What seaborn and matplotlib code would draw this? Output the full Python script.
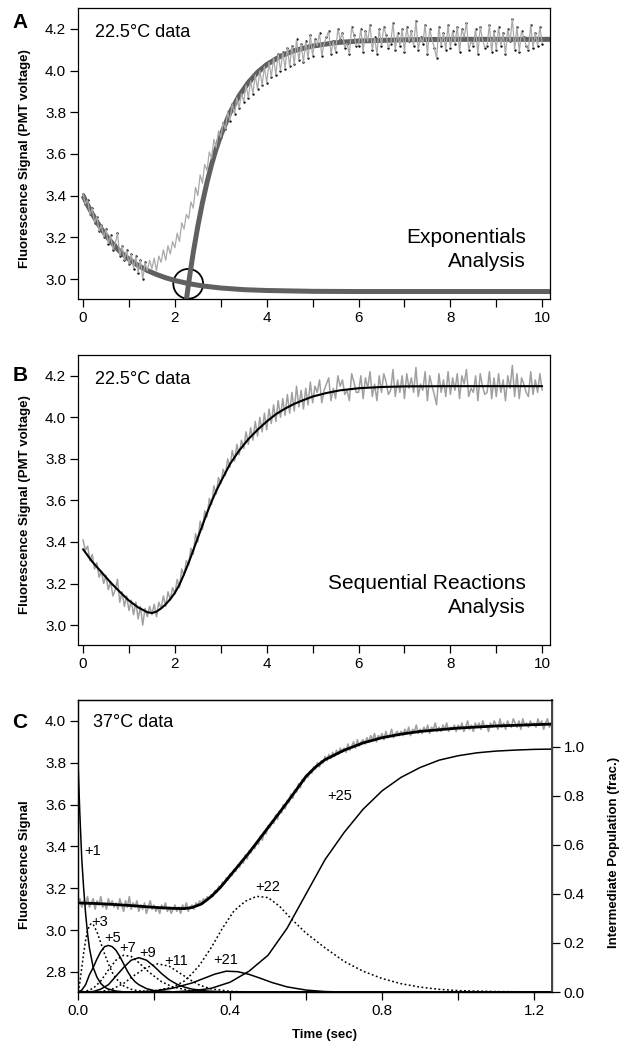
import numpy as np
import pandas as pd
import matplotlib
matplotlib.use("Agg")
import matplotlib.pyplot as plt
from matplotlib.ticker import MultipleLocator, FormatStrFormatter
import seaborn as sns

# ---------------- Panels A & B : 22.5 C stopped-flow trace ----------------
ab_dt = 0.05   # s between samples
ab_signal = [
    3.41, 3.36, 3.38, 3.31, 3.34, 3.27, 3.30, 3.23, 3.26, 3.20, 3.24, 3.17, 3.21, 3.14, 3.17, 3.22, 3.11, 3.16, 3.09, 3.14,
    3.07, 3.12, 3.05, 3.11, 3.03, 3.09, 3.00, 3.08, 3.04, 3.09, 3.05, 3.10, 3.04, 3.11, 3.08, 3.14, 3.09, 3.16, 3.12, 3.18,
    3.15, 3.22, 3.18, 3.27, 3.24, 3.31, 3.29, 3.37, 3.34, 3.44, 3.40, 3.50, 3.46, 3.55, 3.52, 3.61, 3.58, 3.67, 3.63, 3.71,
    3.68, 3.75, 3.72, 3.80, 3.76, 3.84, 3.79, 3.87, 3.82, 3.89, 3.85, 3.93, 3.87, 3.95, 3.89, 3.98, 3.91, 4.00, 3.93, 4.02,
    3.94, 4.04, 3.97, 4.06, 3.98, 4.08, 4.00, 4.09, 4.01, 4.11, 4.02, 4.12, 4.03, 4.15, 4.05, 4.13, 4.04, 4.14, 4.06, 4.17,
    4.07, 4.15, 4.12, 4.18, 4.07, 4.13, 4.16, 4.19, 4.08, 4.14, 4.09, 4.20, 4.15, 4.18, 4.11, 4.13, 4.08, 4.21, 4.17, 4.12,
    4.12, 4.20, 4.09, 4.19, 4.14, 4.22, 4.10, 4.16, 4.08, 4.20, 4.12, 4.21, 4.17, 4.11, 4.13, 4.23, 4.10, 4.18, 4.12, 4.20,
    4.09, 4.21, 4.14, 4.19, 4.12, 4.24, 4.10, 4.16, 4.13, 4.22, 4.08, 4.20, 4.15, 4.11, 4.06, 4.21, 4.12, 4.18, 4.10, 4.22,
    4.11, 4.19, 4.13, 4.21, 4.09, 4.20, 4.16, 4.23, 4.10, 4.14, 4.12, 4.20, 4.08, 4.21, 4.15, 4.11, 4.12, 4.22, 4.09, 4.19,
    4.10, 4.21, 4.12, 4.18, 4.08, 4.20, 4.14, 4.25, 4.10, 4.21, 4.09, 4.19, 4.16, 4.12, 4.10, 4.22, 4.11, 4.18, 4.12, 4.21,
    4.13,
]

# exponentials analysis (panel A)
exp_decay_t = [0.0, 0.1, 0.2, 0.3, 0.4, 0.5, 0.6, 0.7, 0.8, 0.9, 1.0, 1.2, 1.4, 1.6, 1.8, 2.0, 2.3, 2.6,
               3.0, 3.5, 4.0, 5.0, 6.0, 8.0, 10.2]
exp_decay_y = [3.400, 3.355, 3.313, 3.275, 3.240, 3.209, 3.181, 3.156, 3.133, 3.113, 3.095, 3.065, 3.041,
               3.022, 3.006, 2.993, 2.978, 2.967, 2.957, 2.949, 2.945, 2.941, 2.940, 2.940, 2.940]
exp_rise_t = [2.25, 2.3, 2.4, 2.5, 2.6, 2.7, 2.8, 2.9, 3.0, 3.2, 3.4, 3.6, 3.8, 4.0, 4.3, 4.6, 5.0, 5.5,
              6.0, 7.0, 8.0, 10.2]
exp_rise_y = [2.900, 2.981, 3.127, 3.254, 3.366, 3.464, 3.550, 3.625, 3.690, 3.798, 3.880, 3.943, 3.992,
              4.029, 4.069, 4.096, 4.118, 4.134, 4.142, 4.148, 4.150, 4.150]
cross_t = [2.29]
cross_y = [2.977]

# sequential reactions analysis (panel B)
seq_fit_t = [0.0, 0.2, 0.4, 0.6, 0.8, 1.0, 1.2, 1.4, 1.5, 1.6, 1.7, 1.8, 1.9, 2.0, 2.1, 2.2, 2.3, 2.4,
             2.5, 2.6, 2.7, 2.8, 2.9, 3.0, 3.2, 3.4, 3.6, 3.8, 4.0, 4.2, 4.4, 4.6, 4.8, 5.0, 5.3, 5.6,
             6.0, 6.5, 7.0, 8.0, 10.0]
seq_fit_y = [3.365, 3.305, 3.255, 3.205, 3.160, 3.118, 3.085, 3.062, 3.058, 3.065, 3.080, 3.100, 3.125,
             3.155, 3.195, 3.245, 3.300, 3.360, 3.420, 3.480, 3.540, 3.595, 3.645, 3.690, 3.775, 3.840,
             3.895, 3.940, 3.980, 4.015, 4.042, 4.065, 4.083, 4.100, 4.117, 4.130, 4.140, 4.146, 4.149,
             4.150, 4.150]

# ---------------- Panel C : 37 C trace ----------------
c_dt = 0.005
c_signal = [
    3.13, 3.15, 3.11, 3.14, 3.12, 3.16, 3.11, 3.13, 3.15, 3.10,
    3.14, 3.12, 3.16, 3.11, 3.13, 3.10, 3.15, 3.12, 3.14, 3.11,
    3.13, 3.10, 3.15, 3.12, 3.09, 3.14, 3.11, 3.16, 3.10, 3.13,
    3.11, 3.14, 3.09, 3.12, 3.10, 3.13, 3.08, 3.11, 3.14, 3.10,
    3.12, 3.09, 3.11, 3.08, 3.12, 3.10, 3.13, 3.09, 3.11, 3.08,
    3.10, 3.12, 3.09, 3.11, 3.08, 3.12, 3.10, 3.13, 3.09, 3.11,
    3.12, 3.10, 3.13, 3.12, 3.14, 3.13, 3.15, 3.14, 3.16, 3.15,
    3.17, 3.16, 3.19, 3.18, 3.21, 3.20, 3.23, 3.22, 3.25, 3.24,
    3.27, 3.26, 3.29, 3.28, 3.31, 3.30, 3.33, 3.32, 3.36, 3.34,
    3.38, 3.37, 3.40, 3.39, 3.42, 3.41, 3.45, 3.43, 3.47, 3.46,
    3.50, 3.49, 3.52, 3.51, 3.55, 3.53, 3.57, 3.56, 3.60, 3.58,
    3.62, 3.61, 3.65, 3.63, 3.67, 3.66, 3.70, 3.68, 3.72, 3.71,
    3.74, 3.73, 3.76, 3.75, 3.78, 3.77, 3.80, 3.78, 3.81, 3.80,
    3.83, 3.81, 3.84, 3.82, 3.85, 3.83, 3.86, 3.84, 3.87, 3.85,
    3.87, 3.85, 3.89, 3.86, 3.88, 3.90, 3.87, 3.91, 3.88, 3.90,
    3.91, 3.89, 3.92, 3.90, 3.93, 3.91, 3.94, 3.90, 3.93, 3.92,
    3.94, 3.91, 3.95, 3.92, 3.93, 3.96, 3.92, 3.94, 3.95, 3.93,
    3.95, 3.93, 3.96, 3.94, 3.97, 3.93, 3.96, 3.95, 3.98, 3.94,
    3.96, 3.94, 3.97, 3.95, 3.98, 3.94, 3.97, 3.96, 3.99, 3.95,
    3.97, 3.95, 3.98, 3.96, 3.99, 3.95, 3.97, 3.96, 3.98, 3.95,
    3.98, 3.96, 3.99, 3.95, 3.97, 4.00, 3.96, 3.98, 3.95, 3.99,
    3.97, 3.99, 3.96, 4.00, 3.97, 3.98, 3.95, 3.99, 3.97, 4.00,
    3.98, 3.96, 4.01, 3.97, 3.99, 3.96, 4.00, 3.98, 3.97, 4.01,
    3.99, 3.97, 4.00, 3.96, 4.01, 3.98, 3.99, 3.97, 4.00, 3.98,
    3.99, 3.97, 4.01, 3.98, 4.00, 3.96, 3.99, 4.01, 3.97, 3.99,
]
c_fit_t = [0.0, 0.05, 0.10, 0.15, 0.20, 0.25, 0.28, 0.30, 0.325, 0.35, 0.375, 0.40, 0.45, 0.50, 0.55,
           0.60, 0.625, 0.65, 0.70, 0.75, 0.80, 0.85, 0.90, 1.00, 1.10, 1.247]
c_fit_y = [3.130, 3.127, 3.122, 3.116, 3.109, 3.104, 3.103, 3.108, 3.125, 3.160, 3.205, 3.260, 3.370,
           3.490, 3.610, 3.735, 3.780, 3.815, 3.860, 3.895, 3.920, 3.937, 3.950, 3.966, 3.976, 3.985]

# intermediate populations (fraction)
pop1_t = [0.0, 0.005, 0.01, 0.015, 0.02, 0.025, 0.03, 0.04, 0.05, 0.06, 0.07, 0.08, 0.10, 0.12, 0.15, 1.247]
pop1_f = [0.94, 0.72, 0.54, 0.42, 0.32, 0.24, 0.18, 0.10, 0.06, 0.035, 0.02, 0.012, 0.004, 0.001, 0.0, 0.0]
pop3_t = [0.0, 0.005, 0.01, 0.015, 0.02, 0.025, 0.03, 0.035, 0.04, 0.05, 0.06, 0.07, 0.08, 0.09, 0.10,
          0.12, 0.14, 0.16, 0.20, 0.30, 1.247]
pop3_f = [0.0, 0.04, 0.10, 0.16, 0.21, 0.25, 0.27, 0.28, 0.275, 0.245, 0.20, 0.155, 0.115, 0.08, 0.055,
          0.025, 0.011, 0.005, 0.001, 0.0, 0.0]
pop5_t = [0.0, 0.01, 0.02, 0.03, 0.04, 0.05, 0.06, 0.07, 0.08, 0.09, 0.10, 0.11, 0.12, 0.13, 0.14, 0.15,
          0.16, 0.18, 0.20, 0.25, 0.30, 1.247]
pop5_f = [0.0, 0.008, 0.03, 0.07, 0.10, 0.135, 0.165, 0.185, 0.19, 0.185, 0.17, 0.145, 0.115, 0.085,
          0.06, 0.042, 0.03, 0.014, 0.006, 0.001, 0.0, 0.0]
pop7_t = [0.0, 0.02, 0.04, 0.06, 0.08, 0.10, 0.12, 0.14, 0.16, 0.18, 0.20, 0.22, 0.25, 0.30, 0.35, 1.247]
pop7_f = [0.0, 0.003, 0.015, 0.045, 0.09, 0.13, 0.15, 0.145, 0.12, 0.09, 0.065, 0.042, 0.02, 0.005, 0.001, 0.0]
pop9_t = [0.0, 0.04, 0.06, 0.08, 0.10, 0.12, 0.14, 0.16, 0.18, 0.20, 0.22, 0.24, 0.26, 0.28, 0.30, 0.34,
          0.40, 1.247]
pop9_f = [0.0, 0.002, 0.012, 0.03, 0.065, 0.10, 0.13, 0.14, 0.13, 0.105, 0.075, 0.05, 0.032, 0.02, 0.012,
          0.004, 0.0, 0.0]
pop11_t = [0.0, 0.06, 0.09, 0.12, 0.15, 0.18, 0.21, 0.24, 0.27, 0.30, 0.32, 0.35, 0.40, 0.45, 1.247]
pop11_f = [0.0, 0.002, 0.012, 0.035, 0.07, 0.10, 0.115, 0.105, 0.075, 0.045, 0.028, 0.013, 0.003, 0.0, 0.0]
pop21_t = [0.0, 0.15, 0.20, 0.25, 0.30, 0.33, 0.36, 0.39, 0.42, 0.45, 0.48, 0.51, 0.55, 0.60, 0.65, 0.70, 1.247]
pop21_f = [0.0, 0.0, 0.004, 0.016, 0.037, 0.055, 0.073, 0.085, 0.083, 0.072, 0.056, 0.039, 0.021, 0.008,
           0.002, 0.0, 0.0]
pop22_t = [0.0, 0.15, 0.20, 0.25, 0.28, 0.30, 0.32, 0.35, 0.38, 0.41, 0.44, 0.47, 0.50, 0.53, 0.56, 0.60,
           0.65, 0.70, 0.75, 0.80, 0.85, 0.90, 0.95, 1.00, 1.10, 1.247]
pop22_f = [0.0, 0.0, 0.005, 0.02, 0.045, 0.075, 0.11, 0.18, 0.26, 0.33, 0.37, 0.39, 0.385, 0.35, 0.30,
           0.24, 0.18, 0.125, 0.085, 0.055, 0.034, 0.02, 0.011, 0.006, 0.002, 0.0]
pop25_t = [0.0, 0.20, 0.25, 0.30, 0.35, 0.40, 0.45, 0.50, 0.55, 0.60, 0.65, 0.70, 0.75, 0.80, 0.85, 0.90,
           0.95, 1.00, 1.05, 1.10, 1.15, 1.20, 1.247]
pop25_f = [0.0, 0.0, 0.001, 0.005, 0.015, 0.04, 0.085, 0.15, 0.26, 0.40, 0.54, 0.65, 0.745, 0.82, 0.875,
           0.915, 0.945, 0.963, 0.975, 0.982, 0.986, 0.989, 0.99]

pop_names = ["+1", "+3", "+5", "+7", "+9", "+11", "+21", "+22", "+25"]
pop_label_t = [0.039, 0.058, 0.091, 0.130, 0.182, 0.258, 0.389, 0.500, 0.689]
pop_label_f = [0.575, 0.286, 0.220, 0.180, 0.160, 0.127, 0.130, 0.430, 0.800]

# ---------------- styling ----------------
sns.set_theme(style="ticks")
plt.rcParams['font.family'] = ['Liberation Sans', 'DejaVu Sans']
plt.rcParams.update({
    'axes.edgecolor': 'black', 'axes.linewidth': 0.9,
    'text.color': 'black', 'axes.labelcolor': 'black',
    'xtick.color': 'black', 'ytick.color': 'black',
})

TICK_FS = 11
fig = plt.figure(figsize=(6.28, 10.5), dpi=100)
axA = fig.add_axes([0.1242, 0.7152, 0.7516, 0.2771])
axB = fig.add_axes([0.1242, 0.3857, 0.7516, 0.2762])
axC = fig.add_axes([0.1242, 0.0552, 0.7548, 0.2781])

ab_t = np.arange(len(ab_signal)) * ab_dt
ab_sig = np.array(ab_signal)
ab_df = pd.DataFrame({"t": ab_t, "y": ab_sig})
dotted_mask = (ab_t <= 1.4 + 1e-9) | (ab_t >= 3.0 - 1e-9)

FIT_GRAY = "#606060"
DATA_GRAY = "#a9a9a9"

# ---- Panel A ----
sns.lineplot(x=exp_decay_t, y=exp_decay_y, ax=axA, color=FIT_GRAY, lw=3.6,
             estimator=None, sort=False, solid_capstyle='butt')
sns.lineplot(x=exp_rise_t, y=exp_rise_y, ax=axA, color=FIT_GRAY, lw=3.6,
             estimator=None, sort=False, solid_capstyle='butt')
sns.lineplot(data=ab_df, x="t", y="y", ax=axA, color=DATA_GRAY, lw=0.9,
             estimator=None, sort=False)
sns.scatterplot(data=ab_df[dotted_mask], x="t", y="y", ax=axA, color="black",
                s=3, linewidth=0)
sns.scatterplot(x=cross_t, y=cross_y, ax=axA, marker='o', s=460,
                color='black', linewidth=1.3)
axA.collections[-1].set_facecolor('none')
axA.collections[-1].set_edgecolor('black')

# ---- Panel B ----
sns.lineplot(data=ab_df, x="t", y="y", ax=axB, color="#a0a0a0", lw=1.1,
             estimator=None, sort=False)
sns.lineplot(x=seq_fit_t, y=seq_fit_y, ax=axB, color="black", lw=1.5,
             estimator=None, sort=False)

for ax in (axA, axB):
    ax.set_xlim(-0.11, 10.17)
    ax.set_ylim(2.904, 4.30)
    ax.xaxis.set_major_locator(MultipleLocator(2))
    ax.xaxis.set_minor_locator(MultipleLocator(1))
    ax.yaxis.set_major_locator(MultipleLocator(0.2))
    ax.yaxis.set_major_formatter(FormatStrFormatter('%.1f'))
    ax.xaxis.set_major_formatter(FormatStrFormatter('%d'))
    ax.tick_params(axis='both', which='both', direction='out', length=6, width=0.9,
                   labelsize=TICK_FS, pad=2.5)
    ax.set_xlabel("")
    ax.set_ylabel("Fluorescence Signal (PMT voltage)", fontsize=9.5, fontweight='bold', va='center')
    ax.yaxis.set_label_coords(-0.112, 0.483)
    ax.text(0.035, 0.900, "22.5°C data", transform=ax.transAxes, fontsize=13,
            ha='left', va='baseline')

axA.text(0.949, 0.111, "Exponentials\nAnalysis", transform=axA.transAxes, fontsize=15,
         ha='right', va='baseline', multialignment='right', linespacing=1.3)
axB.text(0.949, 0.111, "Sequential Reactions\nAnalysis", transform=axB.transAxes, fontsize=15,
         ha='right', va='baseline', multialignment='right', linespacing=1.3)

# ---- Panel C ----
c_t = np.arange(len(c_signal)) * c_dt
c_df = pd.DataFrame({"t": c_t, "y": c_signal})
sns.lineplot(data=c_df, x="t", y="y", ax=axC, color="#a0a0a0", lw=1.2,
             estimator=None, sort=False)
sns.lineplot(x=c_fit_t, y=c_fit_y, ax=axC, color="black", lw=2.0,
             estimator=None, sort=False)
axC.set_xlim(0, 1.247)
axC.set_ylim(2.704, 4.10)
axC.xaxis.set_major_locator(MultipleLocator(0.4))
axC.xaxis.set_minor_locator(MultipleLocator(0.2))
axC.xaxis.set_major_formatter(FormatStrFormatter('%.1f'))
axC.yaxis.set_major_locator(MultipleLocator(0.2))
axC.yaxis.set_major_formatter(FormatStrFormatter('%.1f'))
axC.tick_params(axis='both', which='both', direction='out', length=6, width=0.9,
                labelsize=TICK_FS, pad=2.5)
axC.set_xlabel("Time (sec)", fontsize=9.5, fontweight='bold', va='center')
axC.xaxis.set_label_coords(0.519, -0.147)
axC.set_ylabel("Fluorescence Signal", fontsize=9.5, fontweight='bold', va='center')
axC.yaxis.set_label_coords(-0.112, 0.435)
axC.text(0.032, 0.9075, "37°C data", transform=axC.transAxes, fontsize=13,
         ha='left', va='baseline')

axC2 = axC.twinx()
pop_curves = [
    (pop1_t, pop1_f, '-'), (pop3_t, pop3_f, ':'), (pop5_t, pop5_f, '-'),
    (pop7_t, pop7_f, ':'), (pop9_t, pop9_f, '-'), (pop11_t, pop11_f, ':'),
    (pop21_t, pop21_f, '-'), (pop22_t, pop22_f, ':'), (pop25_t, pop25_f, '-'),
]
for tt, ff, ls in pop_curves:
    sns.lineplot(x=tt, y=ff, ax=axC2, color="black", lw=1.1,
                 linestyle=ls if ls == '-' else (0, (1.2, 1.6)),
                 estimator=None, sort=False)
for name, lt, lf in zip(pop_names, pop_label_t, pop_label_f):
    axC2.text(lt, lf, name, fontsize=10.5, ha='center', va='center')
axC2.set_xlim(0, 1.247)
axC2.set_ylim(0, 1.19)
axC2.yaxis.set_major_locator(MultipleLocator(0.2))
axC2.yaxis.set_major_formatter(FormatStrFormatter('%.1f'))
axC2.tick_params(axis='y', direction='out', length=6, width=0.9, labelsize=TICK_FS, pad=2.5)
axC2.spines['right'].set_color('#444444')
axC2.spines['right'].set_linewidth(1.4)
axC2.set_ylabel("Intermediate Population (frac.)", fontsize=9.5, fontweight='bold',
                rotation=90, va='center')
axC2.yaxis.set_label_coords(1.131, 0.479)

# panel letters
fig.text(20 / 628, 1 - 22 / 1050, "A", fontsize=15, fontweight='bold', ha='center', va='center')
fig.text(20 / 628, 1 - 375 / 1050, "B", fontsize=15, fontweight='bold', ha='center', va='center')
fig.text(20 / 628, 1 - 722 / 1050, "C", fontsize=15, fontweight='bold', ha='center', va='center')

fig.savefig("out.png", dpi=100)
